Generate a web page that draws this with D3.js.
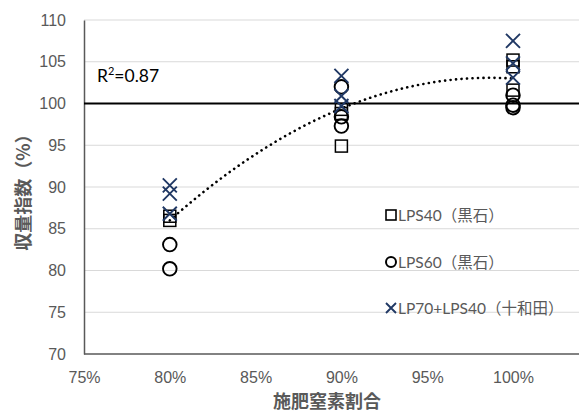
<!DOCTYPE html>
<html><head><meta charset="utf-8">
<script src="https://cdn.jsdelivr.net/npm/d3@7"></script>
<style>
body{margin:0;background:#fff;}
svg{display:block;font-family:Lato,"Noto Sans CJK JP",sans-serif;}
</style></head>
<body><svg id="c" width="579" height="412"></svg>
<script>
// ---- data ----
const xTicks = [0.75, 0.80, 0.85, 0.90, 0.95, 1.00];
const yTicks = [70, 75, 80, 85, 90, 95, 100, 105, 110];
const seriesNames = ["LPS40（黒石）", "LPS60（黒石）", "LP70+LPS40（十和田）"];
const lps40X = [0.8, 0.8, 0.9, 0.9, 0.9, 1.0, 1.0, 1.0];
const lps40Y = [86.5, 86.0, 99.3, 98.8, 94.9, 105.2, 104.4, 101.6];
const lps60X = [0.8, 0.8, 0.9, 0.9, 0.9, 1.0, 1.0, 1.0];
const lps60Y = [83.1, 80.2, 102.0, 98.4, 97.3, 101.0, 99.8, 99.5];
const lp70X = [0.8, 0.8, 0.8, 0.9, 0.9, 0.9, 1.0, 1.0, 1.0];
const lp70Y = [90.2, 89.2, 86.8, 103.3, 100.9, 99.7, 107.5, 104.8, 103.1];
const refLine = 100;
const r2Label = "0.87";

// ---- layout ----
const svg = d3.select("#c");
const pLeft = 84, pTop = 20, pBottom = 354, pRight = 579;
const x = d3.scaleLinear().domain([0.75, 1.05]).range([pLeft, pLeft + (513 - pLeft) * 1.2]);
const y = d3.scaleLinear().domain([70, 110]).range([pBottom, pTop]);
const gray = "#595959";

// gridlines
svg.append("g").selectAll("line").data(yTicks.filter(d => d > 70)).join("line")
  .attr("x1", pLeft).attr("x2", pRight).attr("y1", d => y(d)).attr("y2", d => y(d))
  .attr("stroke", "#d9d9d9").attr("stroke-width", 1);

// axes
const yAxis = d3.axisLeft(y).tickValues(yTicks).tickSize(0).tickPadding(18);
const gy = svg.append("g").attr("transform", `translate(${pLeft},0)`).call(yAxis);
gy.select(".domain").attr("stroke", gray).attr("stroke-width", 1.5);
gy.selectAll("text").attr("fill", gray).attr("font-size", 16);

const xAxis = d3.axisBottom(x).tickValues(xTicks).tickSize(0).tickPadding(18)
  .tickFormat(d3.format(".0%"));
const gx = svg.append("g").attr("transform", `translate(0,${pBottom})`).call(xAxis);
gx.select(".domain").remove();
gx.selectAll("text").attr("fill", gray).attr("font-size", 16);
svg.append("line").attr("x1", pLeft).attr("x2", pRight).attr("y1", pBottom).attr("y2", pBottom)
  .attr("stroke", gray).attr("stroke-width", 1.5);

// reference line at 100
svg.append("line").attr("x1", pLeft).attr("x2", pRight).attr("y1", y(refLine)).attr("y2", y(refLine))
  .attr("stroke", "#000").attr("stroke-width", 2);

// quadratic trend fitted to all points
const allX = lps40X.concat(lps60X, lp70X);
const allY = lps40Y.concat(lps60Y, lp70Y);
function quadFit(xs, ys) {
  const n = xs.length; let S = [0,0,0,0,0], T = [0,0,0];
  for (let i = 0; i < n; i++) {
    const u = xs[i];
    for (let k = 0; k < 5; k++) S[k] += Math.pow(u, k);
    for (let k = 0; k < 3; k++) T[k] += ys[i] * Math.pow(u, k);
  }
  const A = [[S[0],S[1],S[2],T[0]],[S[1],S[2],S[3],T[1]],[S[2],S[3],S[4],T[2]]];
  for (let i = 0; i < 3; i++) {
    for (let j = i + 1; j < 3; j++) {
      const f = A[j][i] / A[i][i];
      for (let k = i; k < 4; k++) A[j][k] -= f * A[i][k];
    }
  }
  const c = [0,0,0];
  for (let i = 2; i >= 0; i--) {
    let s = A[i][3];
    for (let k = i + 1; k < 3; k++) s -= A[i][k] * c[k];
    c[i] = s / A[i][i];
  }
  return c;
}
const co = quadFit(allX, allY);
const trend = d3.range(0.8, 1.0001, 0.0025).map(u => [u, co[0] + co[1]*u + co[2]*u*u]);
svg.append("path").datum(trend)
  .attr("d", d3.line().x(d => x(d[0])).y(d => y(d[1])))
  .attr("fill", "none").attr("stroke", "#000").attr("stroke-width", 2.6)
  .attr("stroke-dasharray", "0.1 5.4").attr("stroke-linecap", "round");

// markers
const sq = 12, cr = 6.8, xh = 7;
function drawSquares(g, xs_, ys_, s) {
  g.selectAll(null).data(xs_.map((v, i) => [v, ys_[i]])).join("rect")
    .attr("x", d => x(d[0]) - s/2).attr("y", d => y(d[1]) - s/2)
    .attr("width", s).attr("height", s)
    .attr("fill", "none").attr("stroke", "#000").attr("stroke-width", 1.5);
}
function drawCircles(g, xs_, ys_, r) {
  g.selectAll(null).data(xs_.map((v, i) => [v, ys_[i]])).join("circle")
    .attr("cx", d => x(d[0])).attr("cy", d => y(d[1])).attr("r", r)
    .attr("fill", "none").attr("stroke", "#000").attr("stroke-width", 1.9);
}
function crossPath(cx, cy, h) {
  return `M${cx-h},${cy-h}L${cx+h},${cy+h}M${cx-h},${cy+h}L${cx+h},${cy-h}`;
}
function drawCrosses(g, xs_, ys_, h) {
  g.selectAll(null).data(xs_.map((v, i) => [v, ys_[i]])).join("path")
    .attr("d", d => crossPath(x(d[0]), y(d[1]), h))
    .attr("fill", "none").attr("stroke", "#203864").attr("stroke-width", 1.9);
}
const gm = svg.append("g");
drawSquares(gm, lps40X, lps40Y, sq);
drawCircles(gm, lps60X, lps60Y, cr);
drawCrosses(gm, lp70X, lp70Y, xh);

// R2 label
const rt = svg.append("text").attr("x", 97).attr("y", 82).attr("font-size", 17.5).attr("fill", "#000")
  .attr("font-family", "Lato, sans-serif");
rt.append("tspan").text("R");
rt.append("tspan").attr("font-size", 11).attr("dy", -7).text("2");
rt.append("tspan").attr("dy", 7).text("=" + r2Label);

// legend
const lg = svg.append("g");
const ly = [215, 262, 308];
const lmx = 391;
lg.append("rect").attr("x", lmx - 5).attr("y", ly[0] - 5).attr("width", 10).attr("height", 10)
  .attr("fill", "none").attr("stroke", "#000").attr("stroke-width", 1.6);
lg.append("circle").attr("cx", lmx).attr("cy", ly[1]).attr("r", 5)
  .attr("fill", "none").attr("stroke", "#000").attr("stroke-width", 2);
lg.append("path").attr("d", crossPath(lmx, ly[2], 5))
  .attr("fill", "none").attr("stroke", "#203864").attr("stroke-width", 1.9);
lg.selectAll("text").data(seriesNames).join("text")
  .attr("x", 398).attr("y", (d, i) => ly[i]).attr("dy", "0.36em")
  .attr("font-size", 15.5).attr("fill", gray)
  .attr("font-family", "Lato, 'Noto Sans CJK JP', sans-serif")
  .text(d => d);

// axis titles
svg.append("text").attr("x", 327).attr("y", 408).attr("text-anchor", "middle")
  .attr("font-size", 18).attr("font-weight", "bold").attr("fill", gray)
  .attr("font-family", "'Noto Sans CJK JP', sans-serif").text("施肥窒素割合");
svg.append("text").attr("transform", "translate(30,188) rotate(-90)").attr("text-anchor", "middle")
  .attr("font-size", 18).attr("font-weight", "bold").attr("fill", gray)
  .attr("font-family", "'Noto Sans CJK JP', sans-serif").text("収量指数（%）");
</script></body></html>
